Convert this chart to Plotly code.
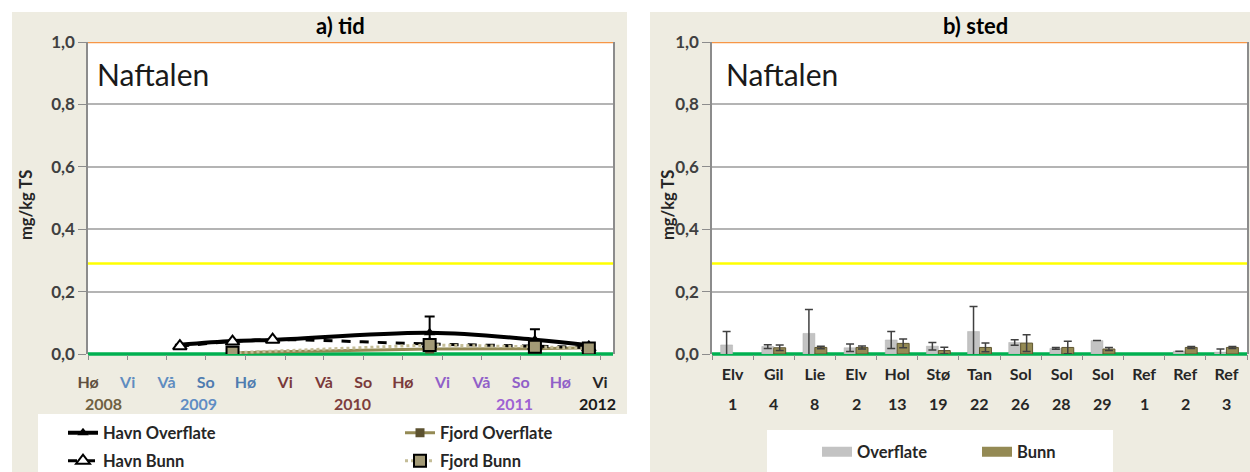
import plotly.graph_objects as go

W, H = 1250, 472
def px(x):
    return x / W
def py(y):
    return 1 - y / H

FONT = "Lato"

# ---------------- Left panel (a) tid) data ----------------
havn_dates = ["2009-05-02", "2009-09-01", "2009-12-03", "2010-12-02", "2011-08-03", "2011-12-06"]
havn_overflate = [0.030, 0.042, 0.045, 0.068, 0.046, 0.028]
havn_overflate_err = [None, None, None, 0.052, 0.033, None]
havn_bunn = [0.025, 0.040, 0.046, 0.032, 0.025, 0.020]
fjord_dates = ["2009-09-01", "2010-12-02", "2011-08-03", "2011-12-06"]
fjord_overflate = [0.004, 0.016, 0.017, 0.020]
fjord_bunn = [0.004, 0.029, 0.023, 0.018]

season_ticks = ["2008-10-01", "2009-01-01", "2009-04-01", "2009-07-01", "2009-10-01",
                "2010-01-01", "2010-04-01", "2010-07-01", "2010-10-01", "2011-01-01",
                "2011-04-01", "2011-07-01", "2011-10-01", "2012-01-01"]
season_labels = ["Hø", "Vi", "Vå", "So", "Hø", "Vi", "Vå", "So", "Hø", "Vi", "Vå", "So", "Hø", "Vi"]
season_colors = ["#5e5040", "#5f8cc0", "#5f8cc0", "#4f7cb0", "#4f7cb0",
                 "#7a3a3a", "#7a3a3a", "#7a3a3a", "#7a3a3a",
                 "#9060c8", "#9060c8", "#9060c8", "#9060c8", "#262626"]
years = ["2008", "2009", "2010", "2011", "2012"]
year_colors = ["#6e6142", "#5f8dc4", "#7d3d3d", "#9e62d3", "#1a1a1a"]

# ---------------- Right panel (b) sted) data ----------------
site_names = ["Elv", "Gil", "Lie", "Elv", "Hol", "Stø", "Tan", "Sol", "Sol", "Sol", "Ref", "Ref", "Ref"]
site_nums = ["1", "4", "8", "2", "13", "19", "22", "26", "28", "29", "1", "2", "3"]
overflate = [0.029, 0.024, 0.066, 0.020, 0.045, 0.025, 0.072, 0.037, 0.018, 0.043, None, 0.009, 0.006]
overflate_err = [0.043, 0.006, 0.077, 0.012, 0.027, 0.012, 0.080, 0.009, 0.003, None, None, None, 0.010]
bunn = [None, 0.020, 0.021, 0.021, 0.034, 0.011, 0.021, 0.035, 0.021, 0.016, None, 0.021, 0.021]
bunn_err = [None, 0.009, 0.004, 0.005, 0.014, 0.011, 0.014, 0.027, 0.020, 0.005, None, 0.003, 0.003]

class_limits = [0.29, 1.0]
class_colors = ["#ffff00", "#f79646"]
class_layers = ["below", "above"]
y_ticks = [0, 0.2, 0.4, 0.6, 0.8, 1.0]

site_keys = [f"{n} {k}" for n, k in zip(site_names, site_nums)]

BEIGE = "#eeece1"
OLIVE = "#948a54"
GREEN = "#00b050"

fig = go.Figure()

# Left traces
fig.add_trace(go.Scatter(
    x=havn_dates, y=havn_overflate, name="Havn Overflate", mode="lines+markers",
    line=dict(color="black", width=4, shape="spline"),
    marker=dict(symbol="triangle-up", size=10, color="black"),
    error_y=dict(type="data", array=havn_overflate_err, color="black", thickness=2, width=5),
    xaxis="x", yaxis="y", legend="legend"))
fig.add_trace(go.Scatter(
    x=fjord_dates, y=fjord_overflate, name="Fjord Overflate", mode="lines+markers",
    line=dict(color=OLIVE, width=3),
    marker=dict(symbol="square", size=9, color="#5c5230"),
    xaxis="x", yaxis="y", legend="legend"))
fig.add_trace(go.Scatter(
    x=havn_dates, y=havn_bunn, name="Havn Bunn", mode="lines+markers",
    line=dict(color="black", width=3, dash="dash", shape="spline"),
    marker=dict(symbol="triangle-up", size=12, color="white", line=dict(color="black", width=2)),
    xaxis="x", yaxis="y", legend="legend2"))
fig.add_trace(go.Scatter(
    x=fjord_dates, y=fjord_bunn, name="Fjord Bunn", mode="lines+markers",
    line=dict(color="#c4bd97", width=3, dash="dot"),
    marker=dict(symbol="square", size=12, color="#a39a76", line=dict(color="black", width=2)),
    xaxis="x", yaxis="y", legend="legend2"))

# Right traces
fig.add_trace(go.Bar(
    x=site_keys, y=overflate, name="Overflate",
    marker=dict(color="#c3c3c3", line=dict(color="#b0b0b0", width=0.5)),
    error_y=dict(type="data", array=overflate_err, color="#404040", thickness=1.5, width=4),
    xaxis="x2", yaxis="y2", showlegend=False))
fig.add_trace(go.Bar(
    x=site_keys, y=bunn, name="Bunn", marker=dict(color=OLIVE, line=dict(color="#5f5630", width=1)),
    error_y=dict(type="data", array=bunn_err, color="#404040", thickness=1.5, width=4),
    xaxis="x2", yaxis="y2", showlegend=False))
# legend swatches for right panel
fig.add_trace(go.Scatter(x=[None], y=[None], name="Overflate", mode="lines",
                         line=dict(color="#c3c3c3", width=10), xaxis="x2", yaxis="y2", legend="legend3"))
fig.add_trace(go.Scatter(x=[None], y=[None], name="Bunn", mode="lines",
                         line=dict(color=OLIVE, width=10), xaxis="x2", yaxis="y2", legend="legend3"))

ydom = [py(354), py(42)]
xdom_left = [px(88), px(613)]
xdom_right = [px(712), px(1247)]
yaxis_common = dict(range=[0, 1.0], tickvals=y_ticks, tickformat=".1f", showgrid=True,
                    gridcolor="#b4b4b4", gridwidth=1.5, showline=True, linecolor="#8c8c8c",
                    linewidth=1.5, mirror=True, ticks="outside", ticklen=8, tickcolor="#8c8c8c",
                    tickfont=dict(family=FONT, size=17, color="#404040", weight="bold"),
                    zeroline=False, domain=ydom, fixedrange=True, automargin=False)

season_text = [f"<span style='color:{c}'>{l}</span>" for l, c in zip(season_labels, season_colors)]

fig.update_layout(
    width=W, height=H, autosize=False,
    margin=dict(l=0, r=0, t=0, b=0, pad=0, autoexpand=False),
    paper_bgcolor="white", plot_bgcolor="white",
    separators=", ",
    barmode="group", bargap=0.42, bargroupgap=0,
    font=dict(family=FONT),
    xaxis=dict(type="date", domain=xdom_left, range=["2008-10-01", "2012-01-31"],
               tickvals=season_ticks, ticktext=season_text, showgrid=False, zeroline=False,
               ticks="outside", ticklen=5, tickcolor="#8c8c8c", showline=False,
               ticklabelstandoff=9, automargin=False, fixedrange=True,
               tickfont=dict(family=FONT, size=16, weight="bold"), anchor="y"),
    yaxis=dict(anchor="x", **yaxis_common),
    xaxis2=dict(type="category", domain=xdom_right, range=[-0.5, 12.5],
                tickvals=site_keys, ticktext=site_names, showgrid=False, zeroline=False,
                ticks="outside", ticklen=5, tickcolor="#8c8c8c", tickson="boundaries",
                showline=False, ticklabelstandoff=9, automargin=False, fixedrange=True,
                tickfont=dict(family=FONT, size=16, color="#262626", weight="bold"), anchor="y2"),
    yaxis2=dict(anchor="x2", **yaxis_common),
    legend=dict(x=px(63), y=py(433), xanchor="left", yanchor="middle", orientation="h",
                entrywidth=292, entrywidthmode="pixels", bgcolor="rgba(0,0,0,0)",
                font=dict(family=FONT, size=16.5, color="#262626", weight="bold")),
    legend2=dict(x=px(63), y=py(461), xanchor="left", yanchor="middle", orientation="h",
                 entrywidth=292, entrywidthmode="pixels", bgcolor="rgba(0,0,0,0)",
                 font=dict(family=FONT, size=16.5, color="#262626", weight="bold")),
    legend3=dict(x=px(817), y=py(452), xanchor="left", yanchor="middle", orientation="h",
                 entrywidth=115, entrywidthmode="pixels", bgcolor="rgba(0,0,0,0)",
                 font=dict(family=FONT, size=16.5, color="#262626", weight="bold")),
)

def rect(x0, x1, y0, y1, color, layer="below"):
    return dict(type="rect", xref="paper", yref="paper", x0=x0, x1=x1, y0=y0, y1=y1,
                fillcolor=color, line=dict(width=0), layer=layer)

shapes = []
# beige chart areas, white plot areas and white legend boxes
shapes.append(rect(px(12), px(627), 0, py(12), BEIGE))
shapes.append(rect(px(650), 1, 0, py(12), BEIGE))
shapes.append(rect(xdom_left[0], xdom_left[1], ydom[0], ydom[1], "white"))
shapes.append(rect(xdom_right[0], xdom_right[1], ydom[0], ydom[1], "white"))
shapes.append(rect(px(38), px(627), 0, py(414), "white"))
shapes.append(rect(px(767), px(1113), 0, py(430), "white"))
# zero (green) line along the bottom of each plot area, under the marks
for xd in (xdom_left, xdom_right):
    shapes.append(dict(type="line", xref="paper", yref="paper", x0=xd[0], x1=xd[1],
                       y0=ydom[0], y1=ydom[0], line=dict(color=GREEN, width=3.5), layer="below"))
# class limit lines in both panels
for xr, yr in [("x", "y"), ("x2", "y2")]:
    for v, c, lay in zip(class_limits, class_colors, class_layers):
        shapes.append(dict(type="line", xref=f"{xr} domain", yref=yr, x0=0, x1=1, y0=v, y1=v,
                           line=dict(color=c, width=2.5), layer=lay))
fig.update_layout(shapes=shapes)

ann = []
def txt(text, x, y, size, color="black", xref="paper", xanchor="center", angle=0):
    return dict(text=text, x=x, y=y, xref=xref, yref="paper", xanchor=xanchor, yanchor="middle",
                showarrow=False, textangle=angle, font=dict(family=FONT, size=size, color=color))

ann.append(txt("<b>a) tid</b>", px(340), py(26), 22))
ann.append(txt("<b>b) sted</b>", px(975), py(26), 22))
for x0 in (95, 724):
    ann.append(txt("Naftalen", px(x0), py(74), 30, "#1a1a1a", xanchor="left"))
for x0 in (26, 668):
    ann.append(txt("<b>mg/kg TS</b>", px(x0), py(205), 16.5, "#262626", angle=-90))
year_px = [103, 198, 352, 514, 597]
for yr, c, xp in zip(years, year_colors, year_px):
    ann.append(txt(f"<b>{yr}</b>", px(xp), py(403), 16, c))
for key, num in zip(site_keys, site_nums):
    ann.append(txt(f"<b>{num}</b>", key, py(403), 16, "#262626", xref="x2"))
fig.update_layout(annotations=ann)

fig.write_html("out.html", config={"displayModeBar": False},
               post_script="document.body.style.margin='0px';")
